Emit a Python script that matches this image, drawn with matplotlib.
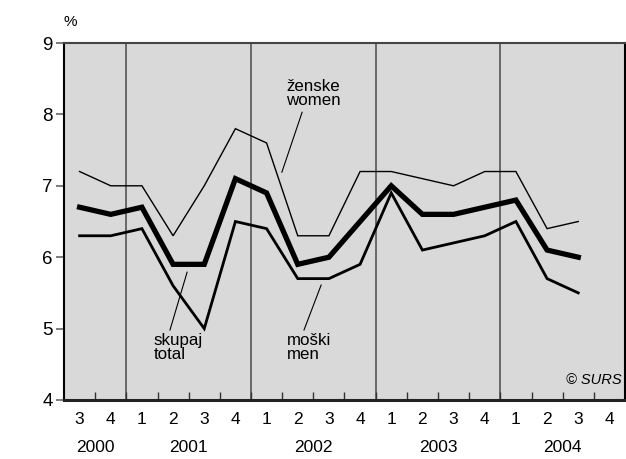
import matplotlib
matplotlib.use("Agg")
import matplotlib.pyplot as plt
from matplotlib import font_manager
import numpy as np

quarters = ["3", "4", "1", "2", "3", "4", "1", "2", "3", "4", "1", "2", "3", "4", "1", "2", "3", "4"]
years = ["2000", "2001", "2002", "2003", "2004"]
year_centers = [0.5, 3.5, 7.5, 11.5, 15.5]
year_bounds = [1.5, 5.5, 9.5, 13.5]

women = [7.2, 7.0, 7.0, 6.3, 7.0, 7.8, 7.6, 6.3, 6.3, 7.2, 7.2, 7.1, 7.0, 7.2, 7.2, 6.4, 6.5]
total = [6.7, 6.6, 6.7, 5.9, 5.9, 7.1, 6.9, 5.9, 6.0, 6.5, 7.0, 6.6, 6.6, 6.7, 6.8, 6.1, 6.0]
men = [6.3, 6.3, 6.4, 5.6, 5.0, 6.5, 6.4, 5.7, 5.7, 5.9, 6.9, 6.1, 6.2, 6.3, 6.5, 5.7, 5.5]

names = {f.name for f in font_manager.fontManager.ttflist}
fam = "Liberation Sans Narrow" if "Liberation Sans Narrow" in names else "Liberation Sans"
plt.rcParams['font.family'] = [fam, 'DejaVu Sans']

fig = plt.figure(figsize=(6.26, 4.59), dpi=100)
ax = fig.add_axes([64/626, 1-400/459, (625-64)/626, (400-43)/459])
ax.set_facecolor("#d9d9d9")

for b in year_bounds:
    ax.axvline(b, color="#555555", lw=1.2, zorder=1)

x = np.arange(len(women))
ax.plot(x, women, color="black", lw=1.0, zorder=3, solid_joinstyle="miter")
ax.plot(x, men, color="black", lw=2.0, zorder=3, solid_joinstyle="miter")
ax.plot(x, total, color="black", lw=3.8, zorder=4, solid_joinstyle="miter")

ax.set_xlim(-0.5, 17.5)
ax.set_ylim(4, 9)
ax.set_yticks([4, 5, 6, 7, 8, 9])
ax.tick_params(axis="y", direction="out", length=6, color="#666666", width=1.2, labelsize=13.5, pad=2)
ax.set_xticks(np.arange(0.5, 17.5, 1.0))
ax.set_xticklabels([])
ax.tick_params(axis="x", direction="in", length=6, color="#333333", width=1.0)

for i, q in enumerate(quarters):
    ax.text(i, -19/357, q, transform=ax.get_xaxis_transform(), ha="center", va="center", fontsize=12.5)
for c, y in zip(year_centers, years):
    ax.text(c, -48/357, y, transform=ax.get_xaxis_transform(), ha="center", va="center", fontsize=12.5)

for s in ["left", "right"]:
    ax.spines[s].set_color("black")
    ax.spines[s].set_linewidth(1.5)
ax.spines["bottom"].set_color("#222222")
ax.spines["bottom"].set_linewidth(2.2)
ax.spines["top"].set_color("#444444")
ax.spines["top"].set_linewidth(1.5)

ax.text(-0.5, 9.2, "%", ha="left", va="bottom", fontsize=11, transform=ax.transData, clip_on=False)

ax.text(6.63, 8.29, "ženske\nwomen", fontsize=12.2, ha="left", va="center", linespacing=0.92)
ax.plot([7.14, 6.49], [8.03, 7.19], color="black", lw=0.8)

ax.text(2.37, 4.74, "skupaj\ntotal", fontsize=12.2, ha="left", va="center", linespacing=0.92)
ax.plot([3.45, 2.9], [5.79, 4.98], color="black", lw=0.8)

ax.text(6.64, 4.74, "moški\nmen", fontsize=12.2, ha="left", va="center", linespacing=0.92)
ax.plot([7.75, 7.2], [5.61, 4.98], color="black", lw=0.8)

ax.text(17.4, 4.28, "© SURS", fontsize=10.5, ha="right", va="center", style="italic")

fig.savefig("out.png", dpi=100)
